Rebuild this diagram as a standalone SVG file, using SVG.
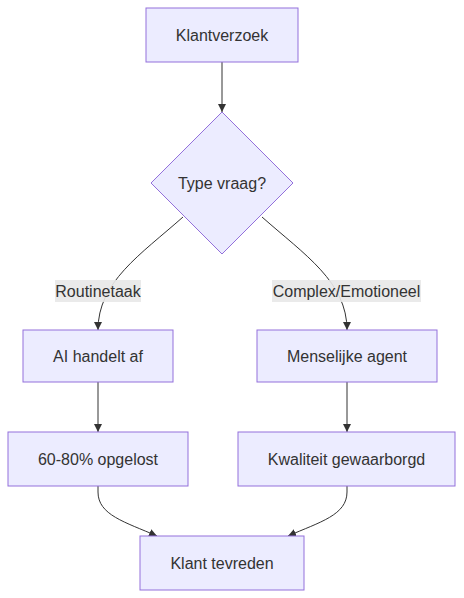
<svg xmlns="http://www.w3.org/2000/svg" width="464" height="598" viewBox="0 0 464 598">
<defs>
<marker id="arr" viewBox="0 0 10 10" refX="10" refY="5" markerWidth="8" markerHeight="8" markerUnits="userSpaceOnUse" orient="auto">
<path d="M0,0 L10,5 L0,10 z" fill="#333333"/>
</marker>
<style>
.node rect, .node polygon { fill: #ECECFF; stroke: #9370DB; stroke-width: 1; }
.node text { font-family: "Liberation Sans", Arial, sans-serif; font-size: 16px; fill: #333333; text-anchor: middle; dominant-baseline: central; }
.edges path { fill: none; stroke: #333333; stroke-width: 1; marker-end: url(#arr); }
.lbl rect { fill: #e8e8e8; opacity: 0.9; }
.lbl text { font-family: "Liberation Sans", Arial, sans-serif; font-size: 16px; fill: #333333; text-anchor: middle; dominant-baseline: central; }
</style>
</defs>
<rect width="464" height="598" fill="#ffffff"/>
<g class="edges">
<path d="M222,62 L222,112"/>
<path d="M183,217 C140,255 98,282 98,330"/>
<path d="M262,217 C305,255 347,282 347,330"/>
<path d="M98,382 L98,432"/>
<path d="M347,382 L347,432"/>
<path d="M98,486 L98,492 C98,515 125,522 157,536"/>
<path d="M347,486 L347,492 C347,515 320,522 288,536"/>
</g>
<g class="lbl" id="label-routine">
<rect x="55" y="280" width="86" height="22"/>
<text x="98" y="291">Routinetaak</text>
</g>
<g class="lbl" id="label-complex">
<rect x="272" y="280" width="149" height="22"/>
<text x="346.5" y="291">Complex/Emotioneel</text>
</g>
<g class="node" id="klantverzoek">
<rect x="146" y="8" width="152" height="54"/>
<text x="222" y="35">Klantverzoek</text>
</g>
<g class="node" id="typevraag">
<polygon points="222,112 293,183 222,254 151,183"/>
<text x="222" y="183">Type vraag?</text>
</g>
<g class="node" id="ai">
<rect x="23" y="330" width="150" height="52"/>
<text x="98" y="356">AI handelt af</text>
</g>
<g class="node" id="mens">
<rect x="257" y="330" width="180" height="52"/>
<text x="347" y="356">Menselijke agent</text>
</g>
<g class="node" id="opgelost">
<rect x="8" y="432" width="180" height="54"/>
<text x="98" y="459">60-80% opgelost</text>
</g>
<g class="node" id="kwaliteit">
<rect x="238" y="432" width="217" height="54"/>
<text x="346.5" y="459">Kwaliteit gewaarborgd</text>
</g>
<g class="node" id="tevreden">
<rect x="140" y="536" width="164" height="54"/>
<text x="222" y="563">Klant tevreden</text>
</g>
</svg>
